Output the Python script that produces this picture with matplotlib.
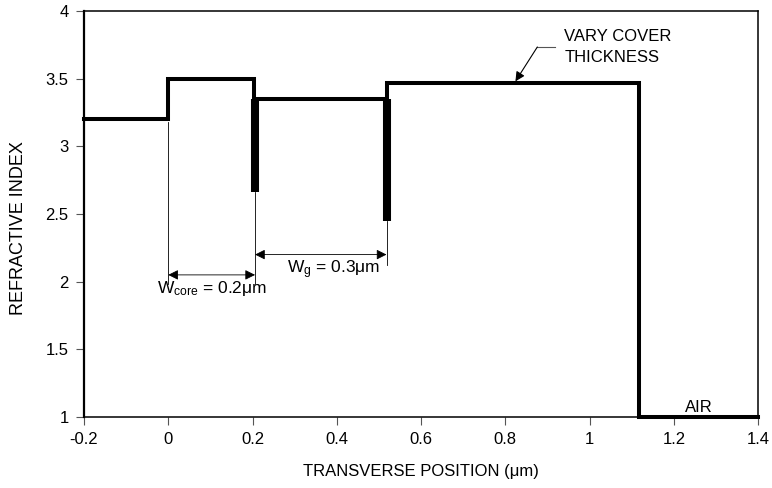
import matplotlib
matplotlib.use("Agg")
import matplotlib.pyplot as plt

plt.rcParams['font.family'] = ['Liberation Sans', 'DejaVu Sans']
plt.rcParams['mathtext.fontset'] = 'custom'
plt.rcParams['mathtext.rm'] = 'Liberation Sans'
plt.rcParams['mathtext.it'] = 'Liberation Sans'

# --- refractive index profile (step function) ---
prof_x = [-0.2, 0.0, 0.0, 0.204, 0.204, 0.52, 0.52, 1.117, 1.117, 1.4]
prof_n = [3.2, 3.2, 3.5, 3.5, 3.35, 3.35, 3.47, 3.47, 1.0, 1.0]

# thin barrier layers: position, top, bottom
barrier_x = [0.206, 0.518]
barrier_top = [3.35, 3.35]
barrier_bottom = [2.66, 2.45]

xticks = [-0.2, 0, 0.2, 0.4, 0.6, 0.8, 1, 1.2, 1.4]
xtick_labels = ['-0.2', '0', '0.2', '0.4', '0.6', '0.8', '1', '1.2', '1.4']
yticks = [1, 1.5, 2, 2.5, 3, 3.5, 4]
ytick_labels = ['1', '1.5', '2', '2.5', '3', '3.5', '4']

fig = plt.figure(figsize=(7.72, 4.88), dpi=100)
ax = fig.add_axes([0.1088, 0.1455, 0.8732, 0.832])

ax.plot(prof_x, prof_n, color='black', lw=2.9, solid_joinstyle='miter', clip_on=False, zorder=3)
for bx, bt, bb in zip(barrier_x, barrier_top, barrier_bottom):
    ax.plot([bx, bx], [bt, bb], color='black', lw=5.8, solid_capstyle='butt', zorder=3)

# dimension lines
ax.plot([0.0, 0.0], [3.18, 1.98], color='black', lw=0.6)
ax.plot([0.206, 0.206], [2.66, 1.98], color='black', lw=0.6)
ax.plot([0.518, 0.518], [2.45, 2.12], color='black', lw=0.6)
arrow = dict(arrowstyle='<|-|>', color='black', lw=0.6, mutation_scale=15, shrinkA=0, shrinkB=0)
ax.annotate('', xy=(0.0, 2.05), xytext=(0.206, 2.05), arrowprops=arrow)
ax.annotate('', xy=(0.206, 2.2), xytext=(0.518, 2.2), arrowprops=arrow)
ax.text(-0.027, 1.916, r'W$_{\mathrm{core}}$ = 0.2$\mathrm{\mu}$m', fontsize=12.5, va='baseline', ha='left')
ax.text(0.282, 2.064, r'W$_{\mathrm{g}}$ = 0.3$\mathrm{\mu}$m', fontsize=12.5, va='baseline', ha='left')

# cover annotation
ax.plot([0.919, 0.876], [3.734, 3.734], color='#555555', lw=0.8)
ax.annotate('', xy=(0.824, 3.48), xytext=(0.876, 3.734),
            arrowprops=dict(arrowstyle='-|>', color='black', lw=0.8, mutation_scale=14,
                            shrinkA=0, shrinkB=0))
ax.text(0.94, 3.735, 'VARY COVER\nTHICKNESS', fontsize=12, ha='left', va='center', linespacing=1.45)
ax.text(1.26, 1.04, 'AIR', fontsize=12, ha='center', va='baseline')

ax.set_xlim(-0.2, 1.4)
ax.set_ylim(1, 4)
ax.set_xticks(xticks)
ax.set_xticklabels(xtick_labels)
ax.set_yticks(yticks)
ax.set_yticklabels(ytick_labels)
ax.tick_params(direction='out', length=6, width=0.8, color='#555555', labelsize=12, pad=5)
for s in ax.spines.values():
    s.set_linewidth(1.1)
ax.spines['left'].set_linewidth(1.6)
ax.set_xlabel('TRANSVERSE POSITION (\u03bcm)', fontsize=12, labelpad=12)
ax.set_ylabel('REFRACTIVE INDEX', fontsize=13, labelpad=12)
ax.yaxis.set_label_coords(-0.085, 0.465)

fig.savefig('out.png', dpi=100)
